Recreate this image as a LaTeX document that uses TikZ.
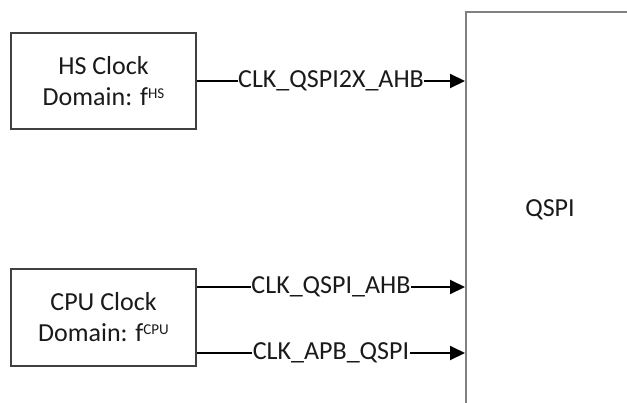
\documentclass[tikz,border=0pt]{standalone}
\usepackage{fontspec}
\setmainfont{Carlito}
\usetikzlibrary{arrows.meta}
\definecolor{boxdark}{HTML}{404040}
\definecolor{boxgrey}{HTML}{808080}
\definecolor{txt}{HTML}{1A1A1A}
\newcommand{\supsm}[1]{\raisebox{7pt}{\fontsize{15}{15}\selectfont #1}}
\begin{document}
\begin{tikzpicture}[x=1pt,y=-1pt,
  every node/.style={font=\fontsize{26}{31}\selectfont, text=txt},
  clkbox/.style={draw=boxdark, line width=2pt, minimum width=185pt, minimum height=96pt, align=center, inner sep=0pt},
  blockbox/.style={draw=boxgrey, line width=2pt, minimum width=168pt, minimum height=396pt, inner sep=0pt},
  sig/.style={draw=black, line width=2pt, -{Triangle[length=15pt,width=14pt]}},
  siglabel/.style={fill=white, inner sep=0.5pt}]
\useasboundingbox (0,0) rectangle (627,402);
\clip (0,0) rectangle (627,402);
\fill[white] (0,0) rectangle (627,402);
\node[blockbox] (qspi) at (550,210) {QSPI};
\node[clkbox] (hs) at (103.5,81) {HS Clock\\Domain: f\supsm{HS}};
\node[clkbox, minimum height=97pt] (cpu) at (103.5,317.5) {CPU Clock\\Domain: f\supsm{CPU}};
\draw[sig] (hs.east) -- (hs.east -| qspi.west) node[midway, siglabel] (l1) {CLK\_QSPI2X\_AHB};
\draw[sig] ([yshift=30.5pt]cpu.east) -- ([yshift=30.5pt]cpu.east -| qspi.west) node[midway, siglabel] (l2) {CLK\_QSPI\_AHB};
\draw[sig] ([yshift=-35.5pt]cpu.east) -- ([yshift=-35.5pt]cpu.east -| qspi.west) node[midway, siglabel] (l3) {CLK\_APB\_QSPI};
\end{tikzpicture}
\end{document}
